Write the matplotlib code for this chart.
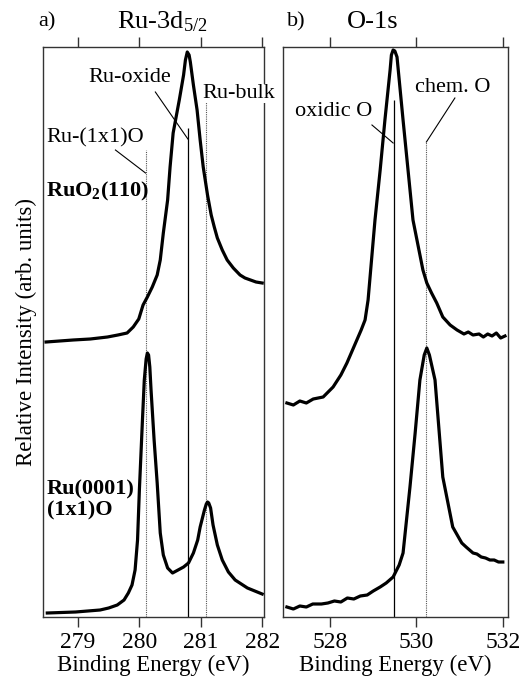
"""
XPS spectra: Ru-3d5/2 and O-1s on RuO2(110) and Ru(0001)-(1x1)O
"""

import numpy as np
import matplotlib.pyplot as plt

plt.rcParams['font.family'] = ['Liberation Serif', 'DejaVu Serif']
plt.rcParams['mathtext.fontset'] = 'custom'
plt.rcParams['mathtext.rm'] = 'Liberation Serif'
plt.rcParams['mathtext.bf'] = 'Liberation Serif:bold'
plt.rcParams['mathtext.it'] = 'Liberation Serif:italic'

# Ru-3d5/2, RuO2(110) (upper trace)
ru_oxide_ev = [278.48, 278.92, 279.20, 279.48, 279.65, 279.80, 279.90, 279.99,
               280.06, 280.13, 280.21, 280.29, 280.34, 280.39, 280.46, 280.50,
               280.55, 280.65, 280.72, 280.75, 280.78, 280.81, 280.83, 280.88,
               280.94, 280.99, 281.04, 281.11, 281.17, 281.22, 281.27, 281.35,
               281.43, 281.53, 281.64, 281.72, 281.81, 281.90, 282.00]
ru_oxide_int = [275, 277, 278, 280, 282, 284, 290, 298,
                312, 320, 330, 342, 357, 384, 417, 450,
                484, 517, 542, 557, 565, 562, 555, 532,
                507, 477, 450, 422, 402, 390, 379, 367,
                357, 349, 342, 339, 337, 335, 334]

# Ru-3d5/2, Ru(0001)-(1x1)O (lower trace)
ru_chem_ev = [278.50, 278.96, 279.36, 279.50, 279.64, 279.75, 279.82, 279.88,
              279.93, 279.97, 280.00, 280.05, 280.08, 280.11, 280.13, 280.15,
              280.17, 280.19, 280.24, 280.29, 280.34, 280.39, 280.46, 280.54,
              280.63, 280.72, 280.80, 280.88, 280.95, 280.99, 281.06, 281.09,
              281.11, 281.13, 281.16, 281.20, 281.27, 281.35, 281.45, 281.56,
              281.76, 282.00]
ru_chem_int = [4, 5, 7, 9, 12, 17, 24, 32,
               47, 77, 127, 197, 237, 258, 264, 262,
               250, 227, 177, 134, 84, 62, 49, 44,
               47, 50, 54, 64, 77, 90, 107, 113,
               115, 114, 109, 92, 72, 57, 45, 37,
               29, 23]

# O-1s, RuO2(110) (upper trace)
o_oxide_ev = [527.00, 527.15, 527.30, 527.45, 527.61, 527.84, 528.07, 528.25,
              528.39, 528.50, 528.62, 528.72, 528.81, 528.88, 529.04, 529.16,
              529.27, 529.39, 529.42, 529.46, 529.50, 529.55, 529.69, 529.92,
              530.15, 530.24, 530.35, 530.47, 530.61, 530.78, 530.94, 531.10,
              531.20, 531.31, 531.45, 531.55, 531.65, 531.75, 531.85, 531.95,
              532.05]
o_oxide_int = [214, 212, 216, 214, 218, 220, 230, 242,
               254, 265, 277, 287, 297, 317, 397, 447,
               497, 547, 562, 567, 566, 560, 497, 397,
               347, 334, 324, 314, 300, 292, 287, 283,
               285, 282, 283, 280, 283, 281, 284, 279,
               281]

# O-1s, Ru(0001)-(1x1)O (lower trace)
o_chem_ev = [527.00, 527.15, 527.30, 527.45, 527.60, 527.80, 527.95, 528.10,
             528.25, 528.40, 528.55, 528.70, 528.86, 529.00, 529.16, 529.30,
             529.46, 529.60, 529.69, 529.85, 529.97, 530.08, 530.18, 530.24,
             530.30, 530.43, 530.61, 530.84, 531.05, 531.15, 531.31, 531.40,
             531.50, 531.60, 531.70, 531.80, 531.90, 532.00]
o_chem_int = [10, 8, 11, 10, 13, 13, 14, 16,
              15, 19, 18, 21, 22, 26, 30, 34,
              40, 52, 64, 130, 184, 237, 262, 269,
              262, 237, 140, 90, 74, 70, 64, 63,
              60, 59, 57, 57, 55, 55]

# reference lines (eV, top of line)
ru_refs = {'Ru-(1x1)O': (280.11, 467), 'Ru-oxide': (280.80, 489), 'Ru-bulk': (281.09, 515)}
o_refs = {'oxidic O': (529.47, 517), 'chem. O': (530.23, 475)}

W, H = 525, 684
fig = plt.figure(figsize=(W / 100, H / 100), dpi=100)
ax_a = fig.add_axes([43 / W, 1 - 617 / H, 221 / W, 570 / H])
ax_b = fig.add_axes([283 / W, 1 - 617 / H, 225 / W, 570 / H])

spine_col = '#333333'
for ax in (ax_a, ax_b):
    ax.set_ylim(0, 570)
    ax.set_yticks([])
    ax.tick_params(axis='x', direction='out', top=True, labeltop=False,
                   length=7, width=1.0, color=spine_col, labelsize=17, pad=4)
    for s in ax.spines.values():
        s.set_color(spine_col)
        s.set_linewidth(1.0)
    ax.set_xlabel('Binding Energy (eV)', fontsize=16.5, labelpad=1)

# panel a
ax_a.set_xlim(278.43, 282.03)
ax_a.set_xticks([279, 280, 281, 282])
ax_a.plot(ru_oxide_ev, ru_oxide_int, color='black', lw=2.3, zorder=4)
ax_a.plot(ru_chem_ev, ru_chem_int, color='black', lw=2.3, zorder=4)
x, top = ru_refs['Ru-(1x1)O']
ax_a.vlines(x, 0, top, colors='#555555', linestyles=(0, (1, 1)), lw=0.8)
x, top = ru_refs['Ru-oxide']
ax_a.vlines(x, 0, top, colors='black', lw=0.9)
x, top = ru_refs['Ru-bulk']
ax_a.vlines(x, 0, top, colors='#555555', linestyles=(0, (1, 1)), lw=0.8)

ax_a.text(279.84, 540, 'Ru-oxide', fontsize=16, ha='center', va='center')
ax_a.plot([280.26, 280.79], [525, 478], color='black', lw=0.8)
ax_a.text(281.03, 524, 'Ru-bulk', fontsize=16, ha='left', va='center', zorder=6,
          bbox=dict(facecolor='white', edgecolor='none', pad=0))
ax_a.text(278.48, 479, 'Ru-(1x1)O', fontsize=16, ha='left', va='center')
ax_a.plot([279.61, 280.10], [467, 444], color='black', lw=0.8)
ax_a.text(278.48, 421, r'RuO$_{\mathbf{2}}$(110)', fontsize=16, fontweight='bold',
          ha='left', va='baseline')
ax_a.text(278.49, 117, 'Ru(0001)\n(1x1)O', fontsize=16, fontweight='bold',
          ha='left', va='center', linespacing=1.05)
ax_a.set_ylabel('Relative Intensity (arb. units)', fontsize=16.5, labelpad=4)

# panel b
ax_b.set_xlim(526.91, 532.12)
ax_b.set_xticks([528, 530, 532])
ax_b.plot(o_oxide_ev, o_oxide_int, color='black', lw=2.3, zorder=4)
ax_b.plot(o_chem_ev, o_chem_int, color='black', lw=2.3, zorder=4)
x, top = o_refs['oxidic O']
ax_b.vlines(x, 0, top, colors='black', lw=0.9)
x, top = o_refs['chem. O']
ax_b.vlines(x, 0, top, colors='#555555', linestyles=(0, (1, 1)), lw=0.8)

ax_b.text(528.09, 505, 'oxidic O', fontsize=16, ha='center', va='center')
ax_b.plot([528.97, 529.46], [492, 474], color='black', lw=0.8)
ax_b.text(530.84, 530, 'chem. O', fontsize=16, ha='center', va='center')
ax_b.plot([530.89, 530.23], [519, 475], color='black', lw=0.8)

# panel labels and titles
fig.text(38 / W, 1 - 22 / H, 'a)', fontsize=16, ha='left', va='center')
fig.text(162 / W, 1 - 22 / H, r'Ru-3d$_{5/2}$', fontsize=19, ha='center', va='center')
fig.text(287 / W, 1 - 22 / H, 'b)', fontsize=16, ha='left', va='center')
fig.text(373 / W, 1 - 22 / H, 'O-1s', fontsize=19, ha='center', va='center')

fig.savefig('out.png', dpi=100)
